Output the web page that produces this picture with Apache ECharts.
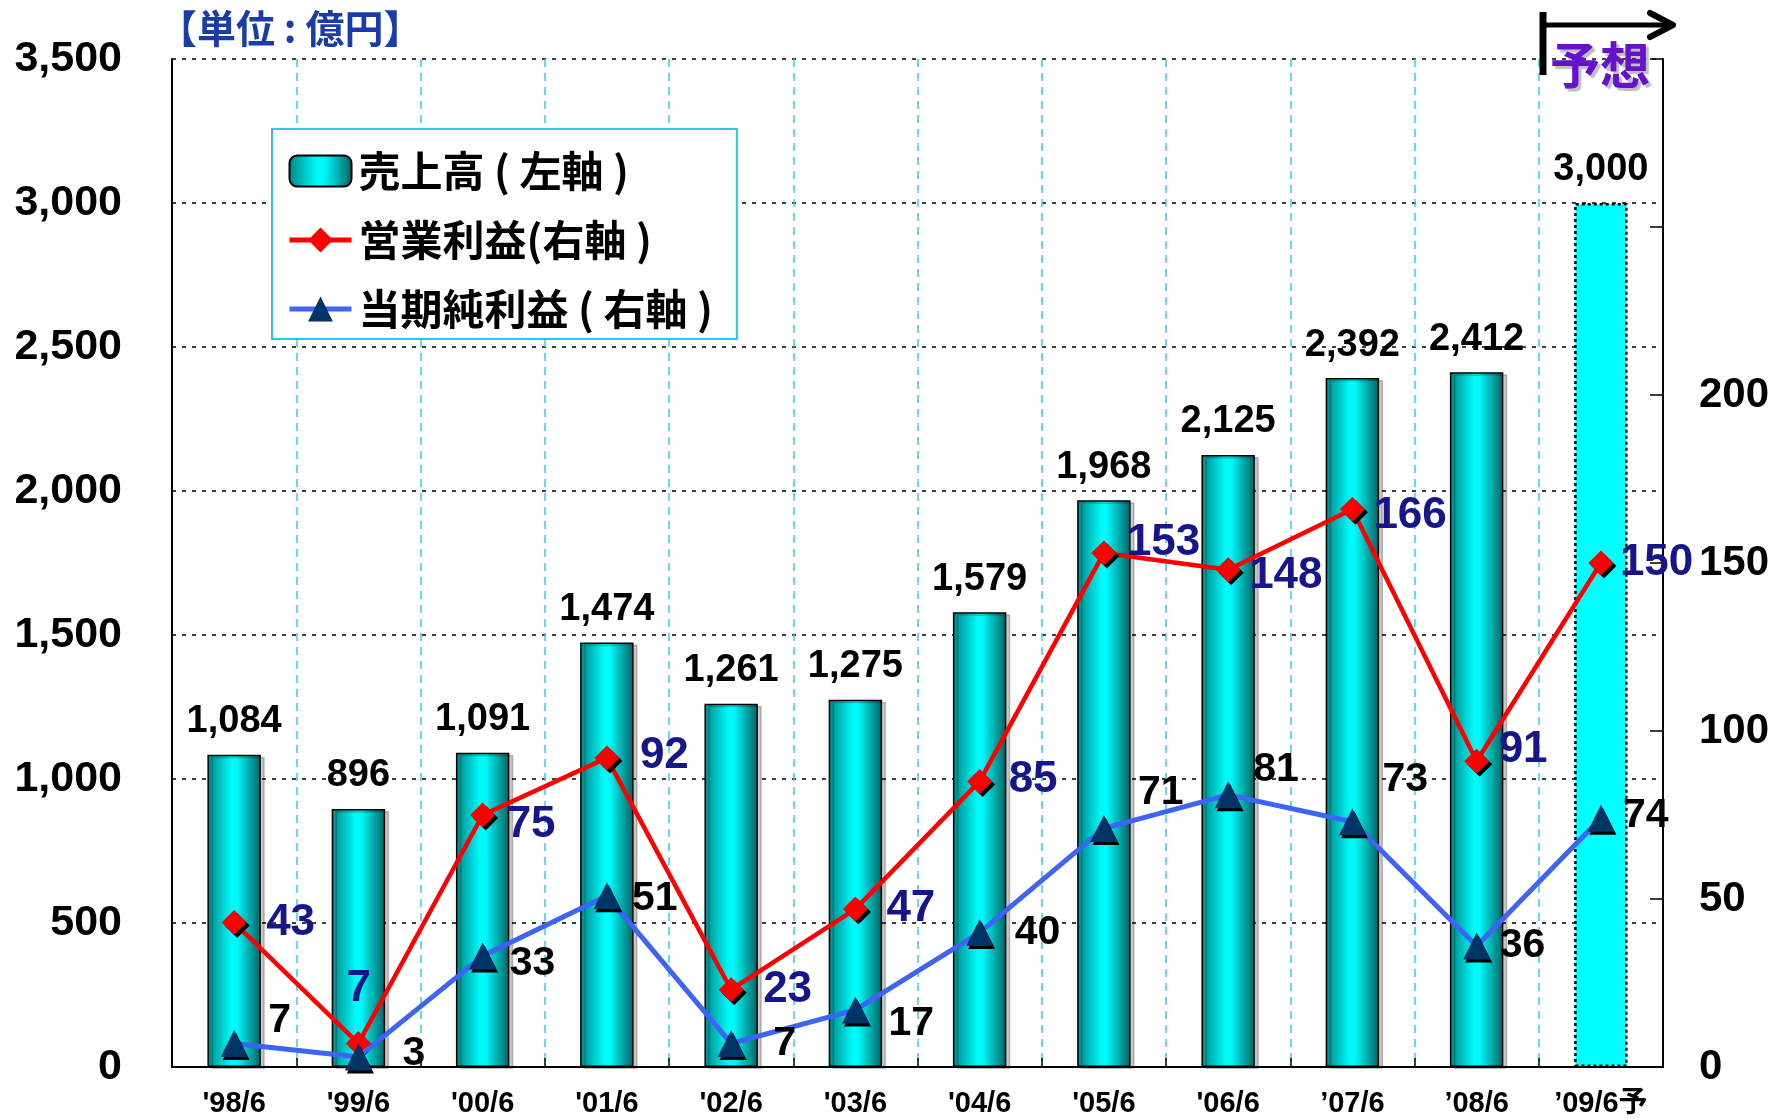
<!DOCTYPE html>
<html>
<head>
<meta charset="utf-8">
<script src="https://cdn.jsdelivr.net/npm/echarts@6/dist/echarts.min.js"></script>
<style>
html,body{margin:0;padding:0;background:#fff;}
#chart{width:1776px;height:1119px;}
</style>
</head>
<body>
<div id="chart"></div>
<script>
// ---- data ----
const categories = ["'98/6","'99/6","'00/6","'01/6","'02/6","'03/6","'04/6","'05/6","'06/6","’07/6","’08/6","’09/6予"];
const sales      = [1084, 896, 1091, 1474, 1261, 1275, 1579, 1968, 2125, 2392, 2412, 3000];
const opProfit   = [43, 7, 75, 92, 23, 47, 85, 153, 148, 166, 91, 150];
const netProfit  = [7, 3, 33, 51, 7, 17, 40, 71, 81, 73, 36, 74];
const seriesNames = ['売上高 ( 左軸 )', '営業利益(右軸 )', '当期純利益 ( 右軸 )'];
const leftAxis  = {min: 0, max: 3500, interval: 500};
const rightAxis = {min: 0, max: 300, interval: 50, labelMax: 200};
const forecastIndex = 11;

// ---- label placement (layout only) ----
const opLabelOffsets  = [[32,0],[-12,-55],[24,10],[33,-2],[32,0],[31,0],[29,-2],[23,-10],[21,6],[21,7],[22,-11],[19,0]];
const netLabelOffsets = [[34,-23],[44,-3],[27,8],[25,3],[42,0],[33,14],[35,0],[34,-36],[25,-25],[30,-42],[23,0],[22,-3]];

const NUM_FONT = "'Liberation Sans', Arial, 'Noto Sans CJK JP', sans-serif";
const JP_FONT = "'Noto Sans CJK JP', 'Liberation Sans', sans-serif";
const fmt = v => String(v).replace(/\B(?=(\d{3})+(?!\d))/g, ',');

const chart = echarts.init(document.getElementById('chart'), null, {renderer: 'canvas'});

const barGradient = new echarts.graphic.LinearGradient(0, 0, 1, 0, [
  {offset: 0, color: '#008585'},
  {offset: 0.45, color: '#00fafa'},
  {offset: 0.55, color: '#00fafa'},
  {offset: 1, color: '#006262'}
]);

const barData = sales.map((v, i) => i === forecastIndex
  ? {value: v, itemStyle: {color: '#00ffff', borderColor: '#000', borderType: [3, 3], borderWidth: 2.5, shadowColor: 'rgba(0,0,0,0)'}}
  : {value: v});

const mkLine = (vals, offs) => vals.map((v, i) => ({
  value: v,
  label: {offset: offs[i]}
}));

const option = {
  backgroundColor: '#ffffff',
  animation: false,
  grid: {left: 172, right: 113, top: 59, bottom: 52, containLabel: false},
  legend: {
    left: 272, top: 129,
    orient: 'vertical',
    data: seriesNames,
    backgroundColor: '#ffffff',
    borderColor: '#22c8f0',
    borderWidth: 2,
    padding: [20, 24, 8, 15],
    itemWidth: 62,
    itemHeight: 31,
    itemGap: 25,
    lineStyle: {width: 5},
    textStyle: {fontFamily: JP_FONT, fontWeight: 'bold', fontSize: 42, color: '#000', lineHeight: 44, padding: [0, 0, 0, 2]},
    selectedMode: false
  },
  xAxis: {
    type: 'category',
    data: categories,
    boundaryGap: true,
    axisLine: {lineStyle: {color: '#000', width: 2}},
    axisTick: {show: true, inside: true, length: 9, lineStyle: {color: '#000', width: 1.5}},
    axisLabel: {fontFamily: NUM_FONT, fontWeight: 'bold', fontSize: 29, color: '#000', margin: 22},
    splitLine: {show: true, lineStyle: {color: '#33ccff', type: [8, 6], width: 1.5}}
  },
  yAxis: [
    {
      type: 'value', min: leftAxis.min, max: leftAxis.max, interval: leftAxis.interval,
      axisLine: {show: true, lineStyle: {color: '#000', width: 2}},
      axisTick: {show: false},
      axisLabel: {fontFamily: NUM_FONT, fontWeight: 'bold', fontSize: 43, color: '#000', margin: 50, formatter: v => fmt(v)},
      splitLine: {show: true, lineStyle: {color: '#000', type: [4, 6], width: 1.5}}
    },
    {
      type: 'value', min: rightAxis.min, max: rightAxis.max, interval: rightAxis.interval,
      position: 'right',
      axisLine: {show: true, lineStyle: {color: '#000', width: 2}},
      axisTick: {show: true, inside: true, length: 13, lineStyle: {color: '#000', width: 1.5}},
      axisLabel: {fontFamily: NUM_FONT, fontWeight: 'bold', fontSize: 42, color: '#000', margin: 36,
        formatter: v => (v <= rightAxis.labelMax ? String(v) : '')},
      splitLine: {show: false}
    }
  ],
  series: [
    {
      name: seriesNames[0],
      type: 'bar',
      yAxisIndex: 0,
      barWidth: '43%',
      data: barData,
      z: 2,
      itemStyle: {
        color: barGradient,
        borderColor: '#000',
        borderWidth: 1.5,
        shadowColor: 'rgba(0,0,0,0.22)',
        shadowOffsetX: 4,
        shadowOffsetY: 2,
        shadowBlur: 0
      },
      label: {
        show: true, position: 'top', distance: 14,
        fontFamily: NUM_FONT, fontWeight: 'bold', fontSize: 38, color: '#000',
        formatter: p => fmt(p.value)
      }
    },
    {
      name: seriesNames[1],
      type: 'line',
      yAxisIndex: 1,
      data: mkLine(opProfit, opLabelOffsets),
      z: 4,
      symbol: 'diamond',
      symbolSize: 25,
      lineStyle: {color: '#ff0000', width: 4.5},
      itemStyle: {color: '#ff0000', shadowColor: '#000', shadowOffsetX: 3, shadowOffsetY: 3, shadowBlur: 0},
      label: {
        show: true, position: 'inside', align: 'left', verticalAlign: 'middle',
        fontFamily: NUM_FONT, fontWeight: 'bold', fontSize: 44, color: '#16168a'
      }
    },
    {
      name: seriesNames[2],
      type: 'line',
      yAxisIndex: 1,
      data: mkLine(netProfit, netLabelOffsets),
      z: 5,
      symbol: 'triangle',
      symbolSize: 27,
      lineStyle: {color: '#3d64f5', width: 5},
      itemStyle: {color: '#003366', shadowColor: '#000', shadowOffsetX: 2, shadowOffsetY: 3, shadowBlur: 0},
      label: {
        show: true, position: 'inside', align: 'left', verticalAlign: 'middle',
        fontFamily: NUM_FONT, fontWeight: 'bold', fontSize: 41, color: '#000'
      }
    }
  ],
  graphic: [
    {
      type: 'text', left: 158, top: 9, z: 10,
      style: {text: '【単位 : 億円】', fontFamily: JP_FONT, fontWeight: 'bold', fontSize: 39, fill: '#1a3caa'}
    },
    {
      type: 'line', z: 10,
      shape: {x1: 1543, y1: 12, x2: 1543, y2: 75},
      style: {stroke: '#000', lineWidth: 7}
    },
    {
      type: 'line', z: 10,
      shape: {x1: 1543, y1: 25, x2: 1672, y2: 25},
      style: {stroke: '#000', lineWidth: 5}
    },
    {
      type: 'polyline', z: 10,
      shape: {points: [[1650, 13], [1673, 25], [1650, 37]]},
      style: {stroke: '#000', lineWidth: 6, fill: null, lineCap: 'round', lineJoin: 'round'}
    },
    {
      type: 'text', left: 1550, top: 40, z: 10,
      style: {text: '予想', fontFamily: JP_FONT, fontWeight: 'bold', fontSize: 50, fill: '#6611cc',
        textShadowColor: 'rgba(0,0,0,0.25)', textShadowOffsetX: 3, textShadowOffsetY: 3, textShadowBlur: 1}
    }
  ]
};

chart.setOption(option);
</script>
</body>
</html>
